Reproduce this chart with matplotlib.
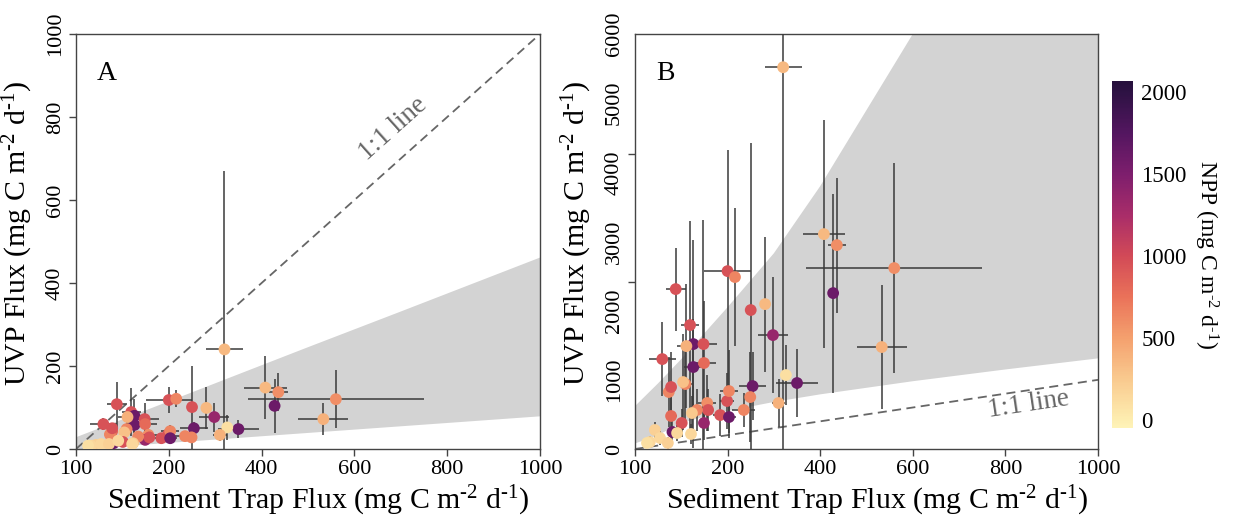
import matplotlib
matplotlib.use("Agg")
import matplotlib.pyplot as plt
import numpy as np
from matplotlib.colors import LinearSegmentedColormap, Normalize

plt.rcParams['font.family'] = ['Liberation Serif', 'DejaVu Serif']
plt.rcParams['mathtext.fontset'] = 'custom'
plt.rcParams['mathtext.rm'] = 'Liberation Serif'
plt.rcParams['mathtext.it'] = 'Liberation Serif:italic'
plt.rcParams['mathtext.bf'] = 'Liberation Serif:bold'

# sediment trap flux (x) with error, NPP colour, UVP flux for panel A and panel B
sed_x = [320, 408, 436, 428, 560, 533, 350, 326, 310, 298, 281, 250, 254, 200, 216, 88,
         59, 119, 126, 126, 148, 149, 111, 78, 109, 81, 156, 184, 199, 203, 203, 235,
         149, 249, 104, 73, 78, 101, 158, 134, 123, 121, 43, 32, 26, 54, 71, 91]
sed_xerr = [40, 46, 20, 12, 190, 54, 45, 10, 15, 32, 10, 10, 30, 50, 10, 22,
            29, 20, 25, 20, 30, 25, 20, 12, 15, 10, 20, 15, 15, 20, 15, 25,
            10, 10, 10, 10, 10, 10, 10, 10, 8, 8, 6, 5, 5, 6, 6, 6]
npp = [350, 350, 600, 1600, 600, 400, 1600, 100, 400, 1350, 350, 950, 1600, 950, 650, 950,
       950, 950, 1600, 1600, 950, 800, 400, 800, 650, 1600, 600, 950, 950, 650, 1600, 650,
       1350, 650, 300, 650, 950, 950, 950, 650, 250, 150, 200, 150, 100, 150, 200, 150]
uvp_a = [240, 148, 137, 104, 120, 72, 48, 52, 34, 77, 99, 101, 50, 118, 121, 108,
         60, 89, 80, 58, 72, 60, 77, 43, 48, 14, 34, 26, 36, 43, 26, 31,
         22, 28, 40, 35, 50, 17, 28, 30, 14, 12, 10, 8, 8, 12, 12, 20]
uvp_a_err = [431, 75, 45, 65, 70, 38, 22, 30, 15, 35, 50, 100, 15, 31, 20, 54,
             15, 58, 40, 20, 39, 25, 20, 15, 20, 10, 12, 12, 12, 15, 10, 12,
             10, 10, 12, 10, 12, 8, 10, 10, 6, 5, 5, 4, 4, 5, 5, 6]
uvp_b = [5520, 3107, 2948, 2254, 2616, 1474, 954, 1069, 665, 1647, 2095, 2009, 910, 2572, 2486, 2312,
         1300, 1792, 1517, 1185, 1517, 1243, 1488, 477, 939, 246, 665, 491, 694, 838, 462, 564,
         376, 751, 968, 824, 896, 376, 564, 564, 520, 217, 275, 101, 87, 159, 87, 231]
uvp_b_err = [5700, 1650, 975, 1440, 1520, 890, 490, 430, 350, 840, 975, 2410, 490, 1750, 1000, 600,
             540, 1500, 1500, 700, 1800, 900, 900, 350, 500, 200, 400, 300, 400, 600, 300, 250,
             250, 650, 700, 500, 500, 200, 300, 300, 250, 150, 120, 80, 70, 100, 80, 120]

# shaded bands
band_a_x = [0, 100, 300, 500, 700, 1000]
band_a_lo = [0, 8, 24, 40, 56, 80]
band_a_hi = [30, 73, 160, 247, 333, 463]
band_b_x = [0, 50, 100, 200, 300, 400, 600, 800, 1000]
band_b_lo = [80, 200, 380, 550, 680, 790, 980, 1150, 1310]
band_b_hi = [620, 950, 1300, 2050, 2830, 3800, 6000, 8000, 10000]

x_ticks = [0, 200, 400, 600, 800, 1000]
x_ticklabels = ['100', '200', '400', '600', '800', '1000']
ya_ticks = [0, 200, 400, 600, 800, 1000]
yb_ticks = [0, 1000, 2000, 3000, 4000, 5000, 6000]
yb_marks = [0, 2410, 4260, 6000]
cb_ticks = [0, 500, 1000, 1500, 2000]

# colour bar
cb_npp = [-50, 0, 250, 500, 750, 1000, 1250, 1500, 1750, 2000, 2070]
cb_colors = ['#fef3b8', '#fdedb0', '#f9c98e', '#f4a06e', '#ea7259', '#d24a57',
             '#a92d69', '#7e1e6d', '#541660', '#2e1244', '#26103c']

vmin, vmax = -50, 2070
cmap = LinearSegmentedColormap.from_list(
    'npp', [((v - vmin) / (vmax - vmin), c) for v, c in zip(cb_npp, cb_colors)])
norm = Normalize(vmin=vmin, vmax=vmax)

fig = plt.figure(figsize=(12.38, 5.21), dpi=100)
axA = fig.add_axes([0.0614, 0.1382, 0.3748, 0.7965])
axB = fig.add_axes([0.5129, 0.1382, 0.374, 0.7965])
cax = fig.add_axes([0.8982, 0.1785, 0.017, 0.666])

# units with a plain hyphen in the exponents, as in the original
unit = '(mg C m$^{\u20102}$ d$^{\u20101}$)'
ylabel = 'UVP Flux ' + unit
xlabel = 'Sediment Trap Flux ' + unit

for ax, y, yerr, bx, blo, bhi, ymax in [
        (axA, uvp_a, uvp_a_err, band_a_x, band_a_lo, band_a_hi, 1000),
        (axB, uvp_b, uvp_b_err, band_b_x, band_b_lo, band_b_hi, 6000)]:
    ax.fill_between(bx, blo, bhi, color='#d3d3d3', lw=0, zorder=1)
    ax.plot([0, 1000], [0, 1000], ls=(0, (5, 3)), color='#666666', lw=1.3, zorder=2)
    ax.errorbar(sed_x, y, xerr=sed_xerr, yerr=yerr, fmt='none', ecolor='#3a3a3a',
                elinewidth=1.1, zorder=3)
    sc = ax.scatter(sed_x, y, c=npp, cmap=cmap, norm=norm, s=72, edgecolors='none', zorder=4)
    ax.set_xlim(0, 1000)
    ax.set_ylim(0, ymax)
    ax.set_xticks(x_ticks)
    ax.set_xticklabels(x_ticklabels)
    ax.set_xlabel(xlabel, fontsize=21.5, labelpad=2)
    ax.set_ylabel(ylabel, fontsize=21.5, labelpad=4)
    ax.xaxis.set_label_coords(0.523, -0.085)
    ax.tick_params(labelsize=16, length=5, width=1, color='#444444', pad=3)
    for s in ax.spines.values():
        s.set_color('#444444')
        s.set_linewidth(1)

axA.set_yticks(ya_ticks)
axA.set_yticklabels([str(v) for v in ya_ticks], rotation=90, va='center')
axA.yaxis.set_label_coords(-0.088, 0.52)

axB.set_yticks(yb_ticks)
axB.set_yticklabels([str(v) for v in yb_ticks], rotation=90, va='center')
axB.tick_params(axis='y', length=0, pad=8)
axB.set_yticks(yb_marks, minor=True)
axB.tick_params(axis='y', which='minor', length=5, width=1, color='#444444')
axB.yaxis.set_label_coords(-0.088, 0.52)

axA.text(0.045, 0.905, 'A', transform=axA.transAxes, fontsize=20, va='center')
axB.text(0.045, 0.905, 'B', transform=axB.transAxes, fontsize=20, va='center')
axA.text(683, 772, '1:1 line', rotation=41.8, color='#666666', fontsize=19.5,
         ha='center', va='center')
axB.text(850, 640, '1:1 line', rotation=8.5, color='#666666', fontsize=19.5,
         ha='center', va='center')

cb = fig.colorbar(sc, cax=cax, ticks=cb_ticks)
cb.outline.set_visible(False)
cb.ax.tick_params(length=0, labelsize=16.5, pad=6)
cb.set_label('NPP ' + unit, rotation=270, labelpad=24, fontsize=17)

fig.savefig('out.png', dpi=100)
